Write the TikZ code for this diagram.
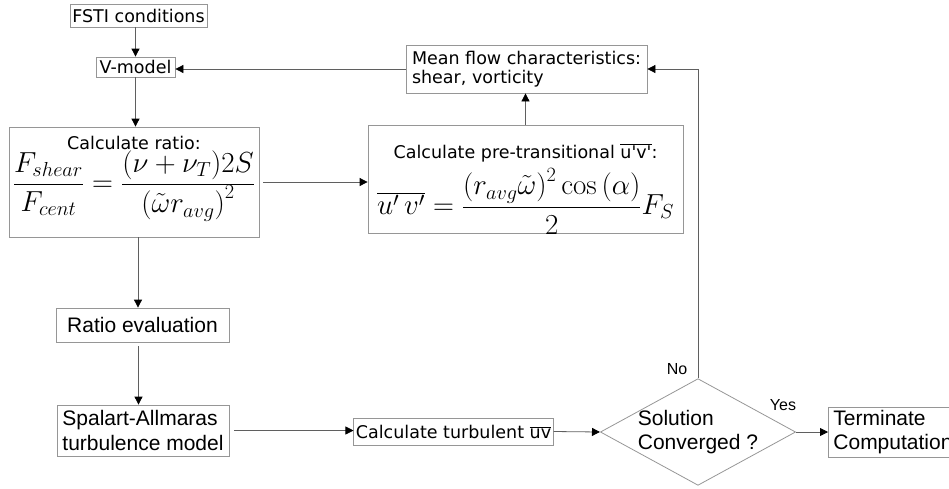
\RequirePackage{fix-cm}
\documentclass[tikz,border=0pt]{standalone}
\usepackage[no-math]{fontspec}
\setmainfont{DejaVu Sans}
\newfontfamily\arialfont{Liberation Sans}
\usetikzlibrary{arrows.meta,shapes.geometric}

\definecolor{boxline}{RGB}{150,150,150}
\definecolor{flowline}{RGB}{95,95,95}

\newcommand{\dvsize}{\fontsize{17.5}{19}\selectfont}
\newcommand{\arsize}{\arialfont\fontsize{21}{24.5}\selectfont}
\newcommand{\mathbig}{\fontsize{29}{32}\selectfont}
% Zeile versetzen, ohne die Boxgroesse zu aendern
\newcommand{\nudge}[2]{\raisebox{#1}[\height][\depth]{#2}}

\begin{document}
\begin{tikzpicture}[x=1pt, y=-1pt,
		tbox/.style={rectangle, draw=boxline, line width=0.8pt, inner sep=2pt,
			font=\dvsize, align=center},
		abox/.style={tbox, font=\arsize},
		decide/.style={diamond, draw=boxline, line width=0.8pt, aspect=1.83,
			inner sep=-1pt, font=\arsize, align=left},
		lbl/.style={font=\arialfont\fontsize{16}{19}\selectfont},
		flow/.style={-{Triangle[length=8pt, width=8pt, color=black]}, draw=flowline, line width=0.8pt}
	]
		\useasboundingbox (0,0) rectangle (949,488);
		% linke Spalte
		\node[tbox, minimum width=250pt, minimum height=110pt, inner xsep=1pt] (ratio) at (134,182)
			{\nudge{4pt}{Calculate ratio:}\\[-1pt]\nudge{3pt}{\mathbig$\displaystyle\frac{F_{shear}}{F_{cent}}=\frac{(\nu+\nu_T)2S}{\left(\tilde{\omega}r_{avg}\right)^2}$}};
		\node[tbox, minimum width=137pt, minimum height=23pt] (fsti) at (138.5,15.5) {FSTI conditions};
		\node[tbox, minimum width=79pt, minimum height=20pt] (vmod) at (135.5,67) {V-model};
		\node[abox, minimum width=173pt, minimum height=34pt] (reval) at (142.5,325) {Ratio evaluation};
		\node[abox, align=left, minimum width=172pt, minimum height=51pt] (sa) at (143,430.5) {Spalart-Allmaras\\turbulence model};
		% rechte Spalte
		\node[tbox, align=left, minimum width=241pt, minimum height=48pt] (mean) at (526.5,69) {Mean flow characteristics:\\shear, vorticity};
		\node[tbox, minimum width=315pt, minimum height=108pt, inner xsep=1pt] (pretr) at (525.5,179)
			{\nudge{-8pt}{Calculate pre-transitional $\overline{\hbox{u\textquotesingle v\textquotesingle}}$:}\\[1pt]\nudge{-12pt}{\mathbig$\displaystyle\overline{u'\,v'}=\frac{\left(r_{avg}\tilde{\omega}\right)^2\cos\left(\alpha\right)}{2}F_S$}};
		% untere Zeile
		\node[tbox, minimum width=199pt, minimum height=27pt] (turb) at (453.5,431.5) {Calculate turbulent $\overline{\hbox{uv}}$};
		\node[decide] (conv) at (698,432) {Solution\\Converged ?};
		\node[abox, align=left, anchor=west, minimum height=50pt, inner xsep=5pt] (term) at (828,432) {Terminate\\Computation};
		\node[lbl] (no) at (677,369) {No};
		\node[lbl] (yes) at (783,405) {Yes};
		% Pfeile
		\draw[flow] (vmod.north |- fsti.south) -- (vmod.north);
		\draw[flow] (vmod) -- (vmod |- ratio.north);
		\draw[flow, shorten <=4pt] (ratio.east) -- (ratio.east -| pretr.west);
		\draw[flow] (pretr.north) -- (pretr.north |- mean.south);
		\draw[flow] (mean.west) -- (mean.west -| vmod.east);
		\draw[flow] ([xshift=4pt]ratio.south) -- ([xshift=4pt]ratio.south |- reval.north);
		\draw[flow, shorten <=4pt] ([xshift=-4pt]reval.south) -- ([xshift=-4pt]reval.south |- sa.north);
		\draw[flow, shorten <=5pt] (sa.east) -- (sa.east -| turb.west);
		\draw[flow] (turb.east) -- (conv.west);
		\draw[flow] (conv.east) -- (term.west);
		\draw[flow] (conv.north) |- (mean.east);
	\end{tikzpicture}
\end{document}
